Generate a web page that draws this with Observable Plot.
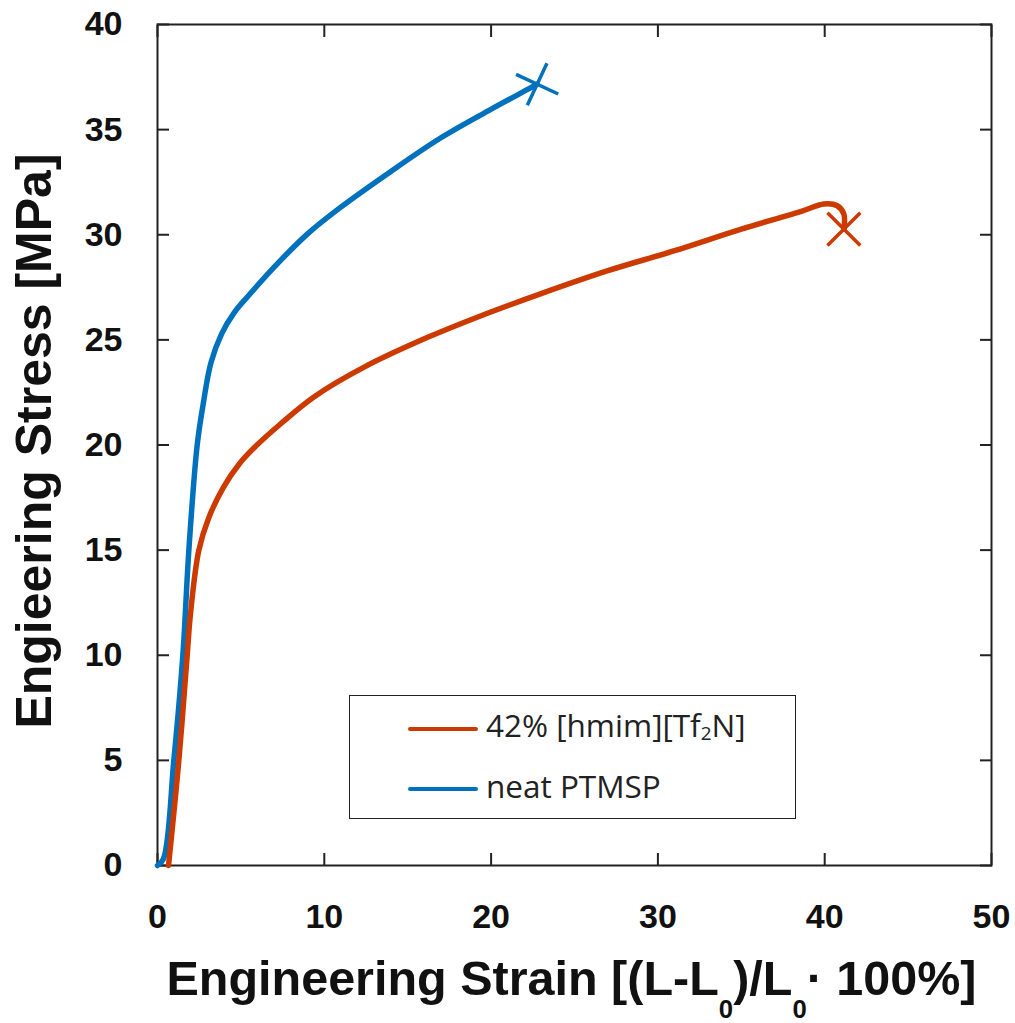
<!DOCTYPE html>
<html>
<head>
<meta charset="utf-8">
<script src="https://cdn.jsdelivr.net/npm/d3@7"></script>
<script src="https://cdn.jsdelivr.net/npm/@observablehq/plot@0.6"></script>
<style>
  html, body { margin: 0; padding: 0; background: #fff; }
  #wrap { position: relative; width: 1015px; height: 1023px; overflow: hidden; }
  #xtitle { position: absolute; left: 0; width: 1143px; text-align: center; top: 954px;
    font-family: "Liberation Sans", Arial, sans-serif; font-weight: bold; font-size: 48.5px; line-height: 48.5px; color: #111; white-space: nowrap; }
  #xtitle .sub { font-size: 0.53em; position: relative; top: 23px; }
  #legend { position: absolute; left: 349px; top: 695px; width: 447px; height: 124px; box-sizing: border-box;
    border: 1.5px solid #222; background: #fff; font-family: "Open Sans", sans-serif; font-size: 31.5px; color: #222; }
  #legend .sw { position: absolute; left: 58px; width: 70px; height: 4px; border-radius: 2px; }
  #legend .tx { position: absolute; left: 136px; line-height: 40px; white-space: nowrap; }
  #legend .tx .sub { font-size: 0.6em; position: relative; top: 0.15em; }
</style>
</head>
<body>
<div id="wrap"></div>
<script>
// ---- data ----
const xTicks = [0, 10, 20, 30, 40, 50];
const yTicks = [0, 5, 10, 15, 20, 25, 30, 35, 40];

const seriesNames = ["42% [hmim][Tf2N]", "neat PTMSP"];
const seriesColors = ["#CC3A00", "#0072BD"];

const neatStrain = [0, 0.35, 0.98, 1.52, 1.88, 2.38, 2.75, 3.2, 3.85, 4.6, 5.45, 6.98, 8.98, 10.97, 13.97, 16.97, 19.96, 22.16, 22.76];
const neatStress = [0, 0.3, 5, 10, 15, 20, 22.0, 23.9, 25.3, 26.3, 27.1, 28.45, 30.03, 31.3, 33.0, 34.6, 35.95, 36.9, 37.16];

const ilStrain = [0.66, 1.28, 1.78, 1.98, 2.48, 3.08, 3.96, 4.9, 5.9, 7.37, 9.4, 12.5, 16.2, 19.4, 23.0, 27.0, 31.0, 35.0, 38.55, 39.95, 40.75, 41.15, 41.15];
const ilStress = [0, 5, 10, 12, 15, 16.55, 18.0, 19.1, 19.95, 21.0, 22.3, 23.75, 25.12, 26.15, 27.2, 28.29, 29.24, 30.27, 31.1, 31.46, 31.38, 30.98, 30.27];

const yTitle = "Engieering Stress [MPa]";

// ---- build tables ----
const neat = neatStrain.map((x, i) => ({x, y: neatStress[i]}));
const il = ilStrain.map((x, i) => ({x, y: ilStress[i]}));
const neatBreak = [neat[neat.length - 1]];
const ilBreak = [il[il.length - 1]];

const font = "Liberation Sans, Arial, sans-serif";
const ax = {stroke: "#222", strokeWidth: 2};

const chart = Plot.plot({
  width: 1015,
  height: 1023,
  marginLeft: 157,
  marginRight: 24,
  marginTop: 24,
  marginBottom: 158,
  x: {domain: [0, 50]},
  y: {domain: [0, 40]},
  style: {fontFamily: font, background: "#fff", color: "#111"},
  marks: [
    // inward ticks on all four sides
    Plot.axisX({anchor: "bottom", ticks: xTicks, tickSize: 12, dy: -12, fill: "none", label: null, ...ax}),
    Plot.axisX({anchor: "top", ticks: xTicks, tickSize: 12, dy: 12, fill: "none", label: null, ...ax}),
    Plot.axisY({anchor: "left", ticks: yTicks, tickSize: 12, dx: 12, fill: "none", label: null, ...ax}),
    Plot.axisY({anchor: "right", ticks: yTicks, tickSize: 12, dx: -12, fill: "none", label: null, ...ax}),
    // tick labels
    Plot.axisX({anchor: "bottom", ticks: xTicks, tickSize: 0, tickPadding: 38, tickFormat: d => String(d), label: null,
      fontSize: 34, fontWeight: "bold", fill: "#111"}),
    Plot.axisY({anchor: "left", ticks: yTicks, tickSize: 0, tickPadding: 35, tickFormat: d => String(d), label: null,
      fontSize: 34, fontWeight: "bold", fill: "#111"}),
    Plot.frame({stroke: "#222", strokeWidth: 2}),
    Plot.line(neat, {x: "x", y: "y", stroke: seriesColors[1], strokeWidth: 5.5, curve: "catmull-rom"}),
    Plot.line(il, {x: "x", y: "y", stroke: seriesColors[0], strokeWidth: 5.5, curve: "catmull-rom"}),
    Plot.dot(neatBreak, {x: "x", y: "y", symbol: "times", r: 15, rotate: -20, stroke: seriesColors[1], strokeWidth: 3.5}),
    Plot.dot(ilBreak, {x: "x", y: "y", symbol: "times", r: 15, stroke: seriesColors[0], strokeWidth: 3.5}),
    Plot.text([yTitle], {text: d => d, frameAnchor: "left", textAnchor: "middle", rotate: -90, dx: -107, dy: -4, lineAnchor: "bottom",
      fontSize: 50, fontWeight: "bold", fill: "#111"})
  ]
});

const wrap = document.getElementById("wrap");
wrap.appendChild(chart);

// x-axis title with subscripts
const xt = document.createElement("div");
xt.id = "xtitle";
xt.innerHTML = 'Engineering Strain [(L-L<span class="sub">0</span>)/L<span class="sub">0</span>· 100%]';
wrap.appendChild(xt);

// legend
const lg = document.createElement("div");
lg.id = "legend";
const rows = [
  {color: seriesColors[0], html: '42% [hmim][Tf<span class="sub">2</span>N]', lineTop: 31, textTop: 9},
  {color: seriesColors[1], html: 'neat PTMSP', lineTop: 91, textTop: 70}
];
rows.forEach(r => {
  const sw = document.createElement("div");
  sw.className = "sw";
  sw.style.top = r.lineTop + "px";
  sw.style.background = r.color;
  lg.appendChild(sw);
  const tx = document.createElement("div");
  tx.className = "tx";
  tx.style.top = r.textTop + "px";
  tx.innerHTML = r.html;
  lg.appendChild(tx);
});
wrap.appendChild(lg);
</script>
</body>
</html>
